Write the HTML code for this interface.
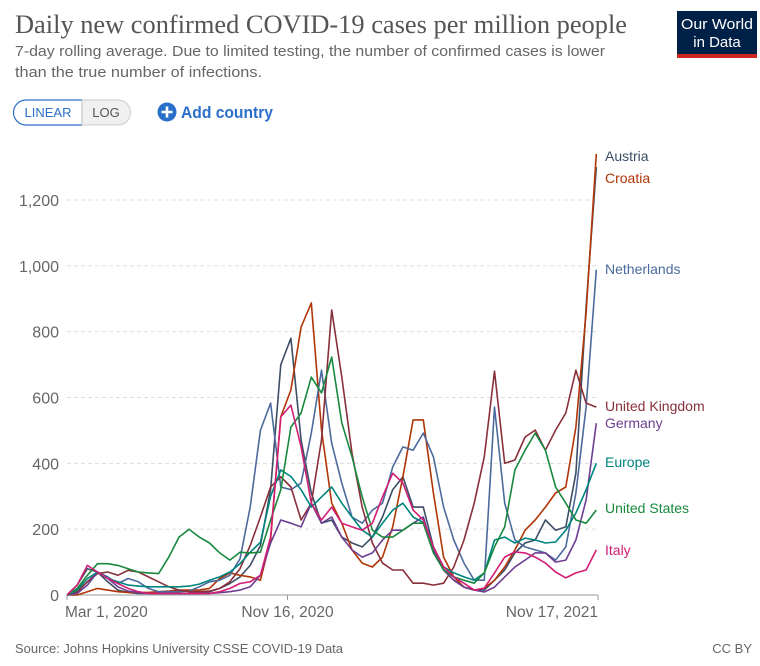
<!DOCTYPE html>
<html><head><meta charset="utf-8"><style>
html,body{margin:0;padding:0;background:#fff;}
svg{display:block;font-family:"Liberation Sans",sans-serif;}
</style></head><body>
<svg id="chart" width="760" height="666" viewBox="0 0 760 666">
<text x="15" y="33" font-family="Liberation Serif, serif" font-size="26" fill="#555" textLength="612" lengthAdjust="spacingAndGlyphs">Daily new confirmed COVID-19 cases per million people</text>
<text x="15" y="56" font-size="15" fill="#666" textLength="590" lengthAdjust="spacingAndGlyphs">7-day rolling average. Due to limited testing, the number of confirmed cases is lower</text>
<text x="15" y="77" font-size="15" fill="#666" textLength="247" lengthAdjust="spacingAndGlyphs">than the true number of infections.</text>
<g>
<rect x="677" y="11" width="80" height="46" fill="#002147"/>
<rect x="677" y="54" width="80" height="4" fill="#ce261e"/>
<text x="717" y="29" font-size="15" fill="#fff" text-anchor="middle" textLength="72" lengthAdjust="spacingAndGlyphs">Our World</text>
<text x="717" y="47" font-size="15" fill="#fff" text-anchor="middle">in Data</text>
</g>
<g>
<path d="M82,100 H26 A12.5,12.5 0 0 0 26,125 H82 Z" fill="#fff" stroke="#2a6fc9" stroke-width="1.2"/>
<text x="48" y="117" font-size="13" fill="#2a6fc9" text-anchor="middle">LINEAR</text>
</g>
<g>
<path d="M82,100 H118 A12.5,12.5 0 0 1 118,125 H82 Z" fill="#f0f0f0" stroke="#ccc" stroke-width="1"/>
<text x="106" y="117" font-size="13" fill="#555" text-anchor="middle">LOG</text>
</g>
<g>
<circle cx="167" cy="112" r="9.5" fill="#2a6fc9"/>
<path d="M167,106.5 V117.5 M161.5,112 H172.5" stroke="#fff" stroke-width="2.6"/>
<text x="181" y="118" font-size="16.5" font-weight="bold" fill="#2a6fc9" textLength="92" lengthAdjust="spacingAndGlyphs">Add country</text>
</g>
<g id="grid"></g>
<g id="yticks"></g>
<g id="xticks"></g>
<g id="lines"></g>
<g id="labels"></g>
<text x="15" y="653" font-size="13" fill="#666">Source: Johns Hopkins University CSSE COVID-19 Data</text>
<text x="752" y="653" font-size="13" fill="#666" text-anchor="end">CC BY</text>
</svg>
<script>
const days = [];
for (let i = 0; i <= 52; i++) days.push(i * 12);
const yTicks = [0, 200, 400, 600, 800, 1000, 1200];
const yTickLabels = ["0", "200", "400", "600", "800", "1,000", "1,200"];
const xTickDays = [0, 260, 626];
const xTickLabels = ["Mar 1, 2020", "Nov 16, 2020", "Nov 17, 2021"];
const seriesNames = ["Austria", "Croatia", "Netherlands", "United Kingdom", "Germany", "Europe", "United States", "Italy"];
const seriesColors = ["#3c4e66", "#b13507", "#4c6a9c", "#883039", "#6d3e91", "#00847e", "#18893e", "#d21f75"];
const austria = [0,30,80,70,40,15,8,5,5,5, 5,5,5,5,10,20,35,55,90,150, 320,700,780,471,310,218,228,176,158,146, 176,237,320,359,267,267,146,76,45,24, 15,15,45,76,128,158,167,228,197,207, 370,875,1300];
const croatia = [0,0,10,20,15,10,8,8,8,10, 12,15,15,15,20,50,67,60,55,45, 167,541,623,814,887,501,279,218,137,97, 85,115,207,359,532,532,310,115,55,24, 15,21,45,85,137,197,228,267,310,328, 510,857,1340];
const netherlands = [0,10,40,70,55,35,50,40,20,10, 10,10,12,25,40,45,60,110,267,500, 583,328,320,340,492,683,461,340,237,218, 258,279,389,450,440,492,420,267,167,97, 45,45,571,279,167,146,137,128,106,146, 310,571,988];
const uk = [0,10,40,65,70,60,75,70,55,40, 25,15,10,10,12,20,40,80,150,237, 328,359,328,228,279,471,866,662,431,267, 158,97,76,76,36,36,30,36,85,167, 279,420,680,400,410,480,501,440,501,553, 683,583,571];
const germany = [0,5,30,70,50,25,12,8,5,5, 5,5,5,5,5,7,10,15,25,60, 158,228,218,207,279,218,237,176,137,115, 128,167,197,197,218,237,137,76,45,24, 15,9,24,55,85,106,128,128,100,106, 167,289,522];
const europe = [0,15,50,70,50,40,30,27,25,25, 25,25,27,33,45,55,70,95,130,160, 300,380,360,320,267,298,328,279,237,197, 176,218,258,279,237,220,146,85,67,55, 45,67,167,176,158,173,167,158,161,197, 249,320,400];
const us = [0,20,60,95,95,90,80,70,67,65, 115,176,200,176,158,128,106,130,128,130, 228,320,510,553,662,614,723,523,420,298, 197,176,176,197,218,218,128,76,55,45, 36,67,146,207,380,440,492,440,328,279, 228,218,258];
const italy = [0,30,90,70,50,35,20,10,5,5, 5,5,5,5,5,10,20,35,40,60, 176,541,577,450,279,228,267,218,207,197, 218,298,370,340,258,228,146,85,55,36, 15,21,67,115,131,128,115,97,70,52, 67,76,137];
const seriesValues = [austria, croatia, netherlands, uk, germany, europe, us, italy];
const labelY = [156, 178, 269, 406, 423, 462, 508, 550];

const X0 = 67, X1 = 598, Y0 = 595, YPER = 65.83 / 200, DMAX = 626;
function xs(d) { return X0 + d * (X1 - X0) / DMAX; }
function ys(v) { return Y0 - v * YPER; }
const NS = "http://www.w3.org/2000/svg";
function mk(tag, parent) { const e = document.createElementNS(NS, tag); parent.appendChild(e); return e; }

const grid = document.getElementById("grid");
const yt = document.getElementById("yticks");
yTicks.forEach((v, i) => {
  if (v > 0) {
    const l = mk("line", grid);
    
    
    l.setAttribute("x1", X0); l.setAttribute("x2", X1);
    l.setAttribute("y1", ys(v)); l.setAttribute("y2", ys(v));
    l.setAttribute("stroke", "#ddd"); l.setAttribute("stroke-dasharray", "4,3");
  }
  const t = mk("text", yt);
  
  
  t.setAttribute("x", 59); t.setAttribute("y", ys(v) + 6);
  t.setAttribute("text-anchor", "end"); t.setAttribute("font-size", "16"); t.setAttribute("fill", "#666");
  t.textContent = yTickLabels[i];
});
const axis = mk("line", grid);


axis.setAttribute("x1", X0); axis.setAttribute("x2", X1); axis.setAttribute("y1", Y0); axis.setAttribute("y2", Y0);
axis.setAttribute("stroke", "#999");
const xt = document.getElementById("xticks");
xTickDays.forEach((d, i) => {
  const tk = mk("line", xt);
  
  
  tk.setAttribute("x1", xs(d)); tk.setAttribute("x2", xs(d)); tk.setAttribute("y1", Y0); tk.setAttribute("y2", Y0 + 5);
  tk.setAttribute("stroke", "#999");
  const t = mk("text", xt);
  
  
  const anchor = i === 0 ? "start" : (i === xTickDays.length - 1 ? "end" : "middle");
  t.setAttribute("x", i === 0 ? xs(d) - 2 : xs(d)); t.setAttribute("y", 617);
  t.setAttribute("text-anchor", anchor); t.setAttribute("font-size", "15.5"); t.setAttribute("fill", "#666");
  t.textContent = xTickLabels[i];
});
const lines = document.getElementById("lines");
const labels = document.getElementById("labels");
seriesValues.forEach((vals, s) => {
  const p = mk("path", lines);
  
  
  p.setAttribute("d", vals.map((v, i) => (i ? "L" : "M") + xs(days[i]).toFixed(1) + "," + ys(v).toFixed(1)).join(""));
  p.setAttribute("fill", "none"); p.setAttribute("stroke", seriesColors[s]);
  p.setAttribute("stroke-width", "1.6"); p.setAttribute("stroke-linejoin", "round");
  const t = mk("text", labels);
  
  
  t.setAttribute("x", 605); t.setAttribute("y", labelY[s] + 5);
  t.setAttribute("font-size", "14"); t.setAttribute("fill", seriesColors[s]);
  t.textContent = seriesNames[s];
});
</script>
</body></html>
